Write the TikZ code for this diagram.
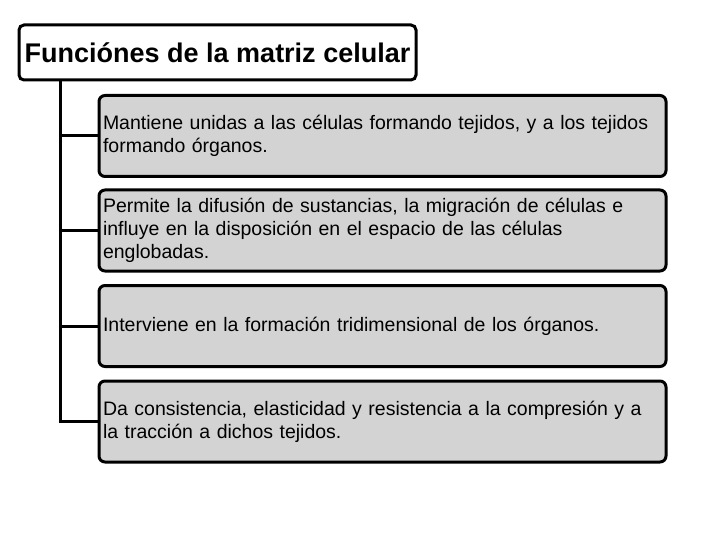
\documentclass[tikz,border=0pt]{standalone}
\usepackage{fontspec}
\setmainfont{Liberation Sans}
\usepackage{tikz}
\usetikzlibrary{positioning}

\begin{document}
\begin{tikzpicture}[x=1pt, y=-1pt,
    titlebox/.style={draw, line width=3pt, rounded corners=5pt, fill=white,
        minimum width=397pt, minimum height=55pt, inner sep=0pt,
        font=\fontsize{27}{31}\selectfont\bfseries},
    itembox/.style={draw, line width=3pt, rounded corners=6pt, fill=boxgray,
        minimum width=567pt, minimum height=81pt, text width=559pt, inner xsep=4pt,
        align=left, font=\fontsize{19.5}{23}\selectfont},
    link/.style={line width=3pt}]
    % Define colors
    \definecolor{boxgray}{RGB}{211,211,211}

    % Define dimensions
    \def\itemx{382.5}

    \useasboundingbox (0,0) rectangle (720,540);

    % Title
    \node[titlebox] (title) at (217.5,52.5) {Funciónes de la matriz celular};

    % Functions
    \node[itembox] (item1) at (\itemx,136) {Mantiene unidas a las células formando tejidos, y a los tejidos\\formando órganos.};
    \node[itembox] (item2) at (\itemx,230.5) {Permite la difusión de sustancias, la migración de células e\\influye en la disposición en el espacio de las células\\englobadas.};
    \node[itembox] (item3) at (\itemx,326) {Interviene en la formación tridimensional de los órganos.};
    \node[itembox] (item4) at (\itemx,421.5) {Da consistencia, elasticidad y resistencia a la compresión y a\\la tracción a dichos tejidos.};

    % Trunk and branches
    \coordinate (trunk) at (60,0);
    \draw[link] (title.south -| trunk) |- (item4.west);
    \foreach \i in {1,2,3} {
        \draw[link] (item\i.west -| trunk) -- (item\i.west);
    }
\end{tikzpicture}
\end{document}
